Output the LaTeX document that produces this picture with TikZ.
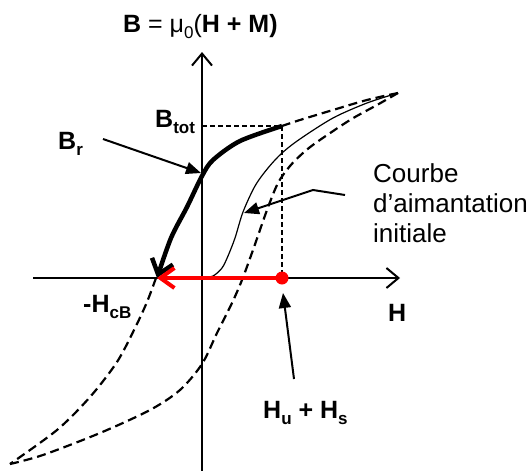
\documentclass[tikz,border=0pt]{standalone}
\usepackage{fontspec}
\setmainfont{Liberation Sans}
\usetikzlibrary{arrows.meta}
\newcommand{\lowsub}[1]{\raisebox{-0.25em}{\fontsize{17}{17}\selectfont #1}}
\begin{document}
\begin{tikzpicture}[x=1pt,y=-1pt,
  axis/.style={line width=2pt, -{Straight Barb[length=12pt,width=20pt]}},
  loopline/.style={line width=2.2pt, dash pattern=on 9pt off 5pt},
  guide/.style={line width=1.4pt, dash pattern=on 5pt off 3pt},
  pointer/.style={line width=2pt, -{Triangle[length=15pt,width=12pt]}},
  lbl/.style={font=\fontsize{25}{29}\selectfont\bfseries, inner sep=0pt, anchor=base west},
  txt/.style={font=\fontsize{26}{30}\selectfont, inner sep=0pt, anchor=base west, align=left}
]
\useasboundingbox (0,0) rectangle (530,471);
% axes
\coordinate (O) at (202,278);
\coordinate (Ytop) at (202,52);
\coordinate (Ybot) at (202,471);
\coordinate (Xl) at (33,278);
\coordinate (Xr) at (400,278);
\draw[axis] (Ybot) -- (Ytop);
\draw[axis] (Xl) -- (Xr);
% key points
\coordinate (Sat) at (398,93);
\coordinate (Bt) at (282,126);
\coordinate (BtAx) at (202,126);
\coordinate (Hc) at (157,278);
\coordinate (Hs) at (282,278);
% guides
\draw[guide] (BtAx) -- (Bt);
\draw[guide] (Bt) -- (Hs);
% outer loop, upper branch
\draw[loopline] plot[smooth, tension=0.6] coordinates {(398,93) (367,100) (333,110) (300,120) (282,126)};
\draw[loopline] plot[smooth] coordinates {(156,278) (147,302) (135,328) (117,362) (90,397) (57,430) (10,464)};
% lower branch
\draw[loopline] plot[smooth] coordinates {(10,464) (43,455) (100,433) (150,410) (180,390) (202,364) (217,333) (232,303) (242,280) (253,250) (267,210) (278,183) (290,166) (303,153) (317,142) (350,120) (377,105) (398,93)};
% initial magnetisation
\draw[line width=1.2pt] plot[smooth] coordinates {(202,278) (213,276) (222,268) (228,256) (235,238) (243,212) (255,186) (268,168) (282,153) (300,139) (333,118) (367,103) (398,93)};
% thick demagnetisation
\draw[line width=4.5pt, -{Straight Barb[length=14pt,width=22pt]}] plot[smooth] coordinates {(282,126) (240,141) (213,160) (202,176) (187,207) (171,238) (157,278)};
% red arrow
\fill[red] (Hs) circle (6.5);
\draw[red, line width=4pt, -{Straight Barb[length=14pt,width=20pt]}] (Hs) -- (Hc);
% labels
\node[lbl] (title) at (123,32) {B\textmd{ = μ\lowsub{0}(}H + M)};
\node[lbl] (btot) at (155,127) {B\lowsub{tot}};
\node[lbl] (br) at (58,149) {B\lowsub{r}};
\node[lbl] (hcb) at (83,312) {-H\lowsub{cB}};
\node[lbl] (hlab) at (388,321) {H};
\node[lbl] (hus) at (263,418) {H\lowsub{u} + H\lowsub{s}};
\node[txt] (courbe) at (373,242) {Courbe\\d’aimantation\\initiale};
% pointers
\coordinate (brTail) at (103,139);
\coordinate (brTip) at (201,173);
\draw[pointer] (brTail) -- (brTip);
\coordinate (cTail) at (345,195);
\coordinate (cBend) at (313,190);
\coordinate (cTip) at (244,213);
\draw[pointer] (cTail) -- (cBend) -- (cTip);
\coordinate (hTail) at (294,379);
\coordinate (hTip) at (283,293);
\draw[pointer] (hTail) -- (hTip);
\end{tikzpicture}
\end{document}
